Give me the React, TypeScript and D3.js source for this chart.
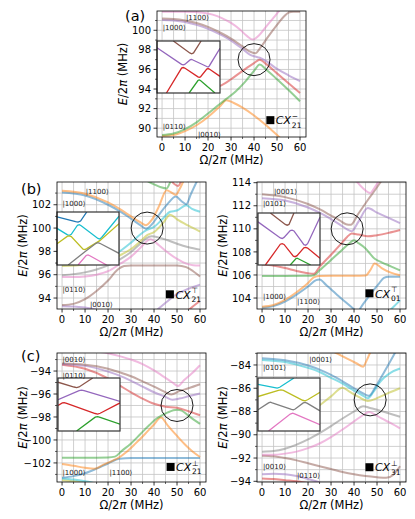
import * as d3 from "d3";
import { useRef, useEffect } from "react";

type Pt = [number, number];

const C = {
  blue: "#1f77b4",
  orange: "#ff7f0e",
  green: "#2ca02c",
  red: "#d62728",
  purple: "#9467bd",
  brown: "#8c564b",
  pink: "#e377c2",
  grey: "#7f7f7f",
  olive: "#bcbd22",
  cyan: "#17becf",
};

const xDomain: Pt = [-2.2, 62.6];
const xTicks = [0, 10, 20, 30, 40, 50, 60];
const xMinor = [5, 15, 25, 35, 45, 55];

// ---------- (a) CX^-_21 ----------
const aYTicks = [90, 92, 94, 96, 98, 100];
const aOrange: Pt[] = [[0, 89.2], [5, 89.3], [10, 89.7], [15, 90.3], [20, 91.15], [25, 92.2], [28, 92.85], [31, 92.6], [35, 92.1], [40, 91.3], [45, 90.35], [50, 89.3], [54, 88.4]];
const aGreen: Pt[] = [[0, 89.3], [5, 89.45], [10, 89.9], [15, 90.6], [20, 91.5], [25, 92.45], [28, 93.0], [32, 93.75], [36, 94.7], [40, 95.85], [42.5, 96.5], [45, 96.05], [50, 95.0], [55, 93.9], [60, 92.75]];
const aRed: Pt[] = [[0, 96.8], [8, 96.2], [16, 95.1], [22, 94.1], [25, 94.3], [30, 95.0], [35, 95.85], [40, 96.65], [42.5, 97.0], [45, 96.6], [50, 95.6], [55, 94.6], [60, 93.6]];
const aPurple: Pt[] = [[0, 101.05], [5, 101.0], [10, 100.85], [15, 100.55], [20, 100.15], [25, 99.6], [30, 98.95], [35, 98.1], [38, 97.55], [40, 97.35], [42.5, 97.2], [45, 96.9], [50, 96.05], [55, 95.4], [60, 94.8]];
const aBrown: Pt[] = [[0, 101.2], [5, 101.15], [10, 101.0], [15, 100.75], [20, 100.35], [25, 99.8], [30, 99.15], [35, 98.35], [38, 97.85], [40.5, 97.65], [43, 98.3], [46, 99.3], [50, 100.55], [53, 101.4], [55, 101.8], [57, 101.9], [60, 101.9]];
const aPink: Pt[] = [[0, 101.9], [10, 101.9], [18, 101.8], [22, 101.6], [26, 101.25], [30, 100.75], [34, 100.05], [37, 99.4], [39.5, 99.05], [42, 99.45], [45, 100.3], [48, 101.15], [51, 102.0], [52, 102.3]];
// inset (fractions of inset box, y from top)
const aInBrown: Pt[] = [[0.26, 0], [0.52, 0.23], [0.55, 0.245], [0.58, 0.23], [0.7, 0]];
const aInPurple: Pt[] = [[0, 0.13], [0.39, 0.45], [0.415, 0.46], [0.44, 0.45], [0.53, 0.36], [0.55, 0.355], [0.57, 0.365], [0.79, 0.49], [0.81, 0.5], [0.83, 0.48], [1.0, 0.14]];
const aInRed: Pt[] = [[0.15, 1.0], [0.39, 0.52], [0.415, 0.51], [0.44, 0.52], [0.65, 0.69], [0.67, 0.7], [0.69, 0.69], [0.79, 0.54], [0.81, 0.53], [0.83, 0.54], [1.0, 0.68]];
const aInGreen: Pt[] = [[0.51, 1.0], [0.65, 0.76], [0.67, 0.75], [0.69, 0.76], [0.92, 1.0]];

// ---------- (b) left CX^T_21 ----------
const bYTicks = [94, 96, 98, 100, 102];
const bPurple: Pt[] = [[0, 93.3], [5, 93.28], [10, 93.18], [15, 93.0], [20, 92.75], [30, 92.3], [38, 92.5], [42, 93.1], [46, 93.75], [50, 94.35], [55, 94.8], [60, 95.15]];
const bRedLow: Pt[] = [[54, 92.8], [57, 93.3], [60, 93.75]];
const bBrown: Pt[] = [[0, 93.4], [5, 93.5], [10, 93.9], [15, 94.6], [20, 95.5], [24, 96.4], [27, 96.75], [30, 96.8], [40, 96.8], [50, 96.8], [54, 96.65], [57, 96.3], [60, 95.85]];
const bPink: Pt[] = [[0, 95.8], [5, 95.8], [10, 95.85], [15, 96.0], [20, 96.3], [25, 96.9], [30, 97.55], [34, 98.3], [38.5, 99.05], [42, 98.55], [46, 97.9], [50, 97.35], [54, 96.95], [57, 96.82], [60, 96.8]];
const bGrey: Pt[] = [[0, 95.95], [10, 96.2], [15, 96.45], [20, 96.8], [25, 97.3], [30, 97.95], [34, 98.65], [36.5, 99.1], [39, 99.3], [42, 99.2], [46, 98.95], [50, 98.65], [55, 98.35], [60, 98.15]];
const bOlive: Pt[] = [[0, 96.75], [10, 96.85], [20, 97.3], [25, 97.65], [30, 98.2], [34, 98.85], [37, 99.4], [40, 99.65], [44, 100.45], [47, 101.15], [50, 100.75], [55, 100.2], [60, 99.7]];
const bCyan: Pt[] = [[0, 96.9], [10, 97.0], [20, 97.55], [25, 98.0], [30, 98.75], [34, 99.45], [36.5, 99.8], [40, 100.1], [44, 100.85], [47, 101.4], [50, 101.5], [54, 101.95], [56.5, 101.65], [60, 101.4]];
const bBlue: Pt[] = [[0, 103.05], [10, 102.8], [20, 102.0], [25, 101.45], [30, 100.8], [34, 100.25], [36.5, 99.95], [39, 100.3], [42, 101.1], [46, 102.1], [49.5, 102.7], [52, 102.3], [54, 102.05], [56, 102.9], [58.5, 103.95], [60, 104.5]];
const bOrange: Pt[] = [[0, 103.2], [10, 102.95], [20, 102.2], [25, 101.65], [30, 101.0], [34, 100.5], [36.5, 100.25], [39, 100.7], [42, 101.8], [45.5, 103.25], [47.5, 103.05], [49.5, 102.85], [51, 103.3], [52.5, 103.9], [54, 104.5]];
const bGreen: Pt[] = [[33, 104.5], [36, 104.15], [40, 103.75], [43, 103.5], [45.5, 103.4], [47, 103.9], [48.5, 104.4]];
const bRed: Pt[] = [[45, 104.8], [47, 104.2], [49, 103.75], [50.5, 103.6], [51.5, 103.9], [53, 104.5]];
const bInBlue: Pt[] = [[0, 0.09], [0.3, 0.18], [0.34, 0.19], [0.38, 0.17], [0.48, 0]];
const bInCyan: Pt[] = [[0, 0.31], [0.17, 0.43], [0.2, 0.44], [0.23, 0.42], [0.33, 0.25], [0.36, 0.24], [0.39, 0.26], [0.66, 0.5], [0.69, 0.51], [0.72, 0.48], [1.0, 0.08]];
const bInOlive: Pt[] = [[0, 0.6], [0.17, 0.455], [0.2, 0.45], [0.23, 0.465], [0.42, 0.7], [0.45, 0.71], [0.48, 0.69], [0.69, 0.54], [1.0, 0.22]];
const bInGrey: Pt[] = [[0.18, 1.0], [0.45, 0.75], [0.63, 0.59], [0.66, 0.58], [0.69, 0.59], [1.0, 0.78]];
const bInPink: Pt[] = [[0.34, 1.0], [0.47, 0.82], [0.5, 0.81], [0.53, 0.825], [0.8, 1.0]];

// ---------- (b) right CX^T_01 ----------
const brYTicks = [104, 106, 108, 110, 112, 114];
const brCyan: Pt[] = [[54, 102.6], [57, 103.2], [60, 103.8]];
const brBlue: Pt[] = [[0, 103.15], [5, 103.3], [10, 103.7], [15, 104.3], [20, 105.0], [23.5, 105.55], [25, 105.6], [28, 105.1], [32, 104.4], [36, 103.7], [39, 103.2], [41.5, 102.85], [44, 103.5], [48, 104.55], [51, 105.3], [53, 105.75], [55, 105.85], [60, 105.85]];
const brOrange: Pt[] = [[0, 103.25], [5, 103.4], [10, 103.85], [15, 104.5], [20, 105.3], [22.5, 105.8], [25, 105.92], [30, 105.93], [40, 105.93], [45, 105.95], [47, 106.4], [49, 107.0], [52, 106.6], [56, 106.2], [60, 105.97]];
const brGreen: Pt[] = [[0, 105.92], [10, 105.92], [20, 105.93], [22.5, 105.98], [25, 106.4], [30, 107.3], [35, 108.2], [38, 108.75], [40, 109.0], [42, 108.75], [45, 108.3], [49, 107.4], [52, 107.1], [56, 106.75], [60, 106.4]];
const brRed: Pt[] = [[0, 106.9], [5, 106.8], [10, 106.6], [15, 106.35], [20, 106.15], [22.5, 106.1], [25, 106.7], [30, 107.75], [35, 108.85], [37, 109.3], [39, 109.6], [42, 109.5], [46, 109.35], [50, 109.45], [55, 109.65], [60, 109.9]];
const brPurple: Pt[] = [[0, 112.65], [10, 112.45], [20, 111.85], [25, 111.4], [30, 110.85], [34, 110.35], [37, 109.95], [39, 109.8], [42, 110.65], [46, 111.8], [50, 111.4], [55, 110.95], [60, 110.5]];
const brBrown: Pt[] = [[0, 113.0], [10, 112.75], [20, 112.15], [25, 111.7], [30, 111.15], [34, 110.7], [36.5, 110.4], [38.5, 110.35], [42, 111.35], [46, 112.5], [50, 113.6], [52, 114.2]];
const brPink: Pt[] = [[38, 115.0], [41, 114.15], [44, 113.5], [47, 113.1], [49, 113.6], [51, 114.2]];
const brInBrown: Pt[] = [[0.2, 0], [0.44, 0.22], [0.47, 0.235], [0.5, 0.22], [0.58, 0]];
const brInPurple: Pt[] = [[0, 0.17], [0.36, 0.48], [0.39, 0.49], [0.42, 0.47], [0.52, 0.34], [0.55, 0.33], [0.58, 0.345], [0.74, 0.61], [0.77, 0.62], [0.8, 0.59], [1.0, 0.08]];
const brInRed: Pt[] = [[0.12, 1.0], [0.36, 0.6], [0.39, 0.59], [0.42, 0.605], [0.57, 0.83], [0.6, 0.84], [0.63, 0.82], [0.74, 0.67], [0.77, 0.66], [0.8, 0.675], [1.0, 0.87]];
const brInGreen: Pt[] = [[0.52, 1.0], [0.61, 0.88], [0.63, 0.87], [0.65, 0.88], [0.85, 1.0]];

// ---------- (c) CX^⊥_21 ----------
const cYTicks = [-102, -100, -98, -96, -94];
const cOlive: Pt[] = [[0, -103.5], [5, -103.6], [10, -103.75], [14, -103.9]];
const cCyan: Pt[] = [[0, -103.35], [5, -103.45], [10, -103.6], [15, -103.8], [20, -104.0]];
const cBlue: Pt[] = [[0, -103.3], [5, -103.15], [10, -102.9], [15, -102.5], [20, -102.05], [25, -101.63], [30, -101.58], [40, -101.58], [50, -101.58], [60, -101.58]];
const cOrange: Pt[] = [[0, -102.1], [5, -102.25], [10, -102.42], [14, -102.5], [18, -102.15], [22, -101.8], [24.5, -101.56], [28, -101.05], [32, -100.3], [36, -99.5], [40, -98.65], [43, -98.05], [46, -98.75], [50, -99.65], [54, -100.5], [57, -101.05], [60, -101.48]];
const cGreen: Pt[] = [[0, -101.55], [10, -101.55], [20, -101.52], [23, -101.45], [26, -100.95], [30, -100.3], [34, -99.5], [38, -98.7], [41, -98.15], [43, -97.9], [46, -97.6], [50, -97.38], [52, -97.45], [55, -97.9], [60, -98.6]];
const cRed: Pt[] = [[0, -93.45], [10, -93.8], [20, -94.65], [25, -95.25], [30, -95.85], [35, -96.4], [40, -96.85], [45, -97.1], [50, -97.2], [55, -97.5], [60, -97.85]];
const cPurple: Pt[] = [[0, -93.4], [10, -93.55], [20, -94.05], [25, -94.4], [30, -94.85], [35, -95.35], [40, -95.85], [45, -96.25], [48, -96.5], [51, -96.4], [55, -96.2], [60, -95.95]];
const cBrown: Pt[] = [[0, -93.35], [10, -93.45], [20, -93.8], [25, -94.1], [30, -94.45], [35, -94.9], [40, -95.35], [44, -95.75], [47.5, -96.05], [51, -95.75], [55, -95.5], [60, -95.15]];
const cPink: Pt[] = [[0, -92.1], [10, -92.2], [20, -92.45], [25, -92.7], [30, -93.0], [35, -93.4], [40, -93.95], [45, -94.6], [48, -95.0], [50.5, -95.3], [53, -94.8], [56.5, -94.2], [60, -93.5]];
const cInBrown: Pt[] = [[0, 0.08], [0.26, 0.17], [0.3, 0.18], [0.34, 0.17], [0.56, 0]];
const cInPurple: Pt[] = [[0, 0.41], [0.34, 0.24], [0.38, 0.23], [0.42, 0.24], [1.0, 0.44]];
const cInRed: Pt[] = [[0, 0.52], [0.07, 0.47], [0.1, 0.465], [0.14, 0.48], [0.6, 0.67], [0.64, 0.68], [0.68, 0.665], [1.0, 0.47]];
const cInGreen: Pt[] = [[0.3, 1.0], [0.6, 0.74], [0.64, 0.73], [0.68, 0.745], [1.0, 0.87]];

// ---------- (d) CX^⊥_31 ----------
const dYTicks = [-94, -92, -90, -88, -86, -84];
const dRed: Pt[] = [[0, -93.75], [5, -93.8], [10, -93.9], [15, -94.0], [20, -94.15]];
const dPurple: Pt[] = [[0, -93.4], [5, -93.35], [10, -93.4], [15, -93.55], [20, -93.8], [25, -94.1], [28, -94.4]];
const dBrown: Pt[] = [[0, -91.8], [5, -91.85], [10, -92.0], [15, -92.2], [20, -92.45], [25, -92.7], [30, -92.95], [35, -93.2], [40, -93.4], [45, -93.55], [50, -93.65], [54, -93.7], [57, -93.45], [60, -92.7]];
const dPink: Pt[] = [[0, -91.72], [5, -91.72], [10, -91.62], [15, -91.45], [20, -91.15], [25, -90.75], [30, -90.2], [35, -89.55], [40, -88.85], [44, -88.3], [46.5, -88.05], [49, -88.25], [52, -88.6], [56, -89.0], [60, -89.45]];
const dGrey: Pt[] = [[0, -91.45], [5, -91.4], [10, -91.2], [15, -90.85], [20, -90.4], [25, -89.85], [30, -89.25], [35, -88.6], [40, -88.0], [44, -87.55], [47, -87.7], [50, -87.85], [55, -88.15], [60, -88.45]];
const dOlive: Pt[] = [[0, -89.0], [10, -88.6], [20, -88.0], [24, -87.6], [30, -86.7], [35, -85.95], [38, -86.3], [42, -86.75], [46, -87.1], [50, -86.85], [55, -86.4], [60, -86.0]];
const dCyan: Pt[] = [[0, -83.57], [10, -83.75], [20, -84.25], [25, -84.6], [30, -85.1], [35, -85.6], [40, -86.2], [44, -86.65], [46, -86.85], [48.5, -86.3], [51, -85.55], [53, -85.1], [56, -84.65], [60, -84.3]];
const dBlue: Pt[] = [[0, -83.43], [10, -83.6], [20, -84.05], [25, -84.4], [30, -84.85], [35, -85.4], [40, -86.0], [44, -86.45], [46.5, -86.65], [49, -86.0], [52, -85.0], [55, -83.95], [57, -83.25], [58.5, -82.7]];
const dOrange: Pt[] = [[30, -82.75], [33, -83.05], [37, -83.45], [41, -83.85], [44, -84.15], [45.5, -83.6], [47, -82.95], [48, -82.6]];
const dInCyan: Pt[] = [[0, 0.12], [0.27, 0.18], [0.31, 0.19], [0.35, 0.175], [0.58, 0]];
const dInOlive: Pt[] = [[0, 0.35], [0.33, 0.235], [0.37, 0.225], [0.41, 0.235], [0.72, 0.42], [0.76, 0.43], [0.8, 0.41], [1.0, 0.27]];
const dInGrey: Pt[] = [[0, 0.6], [0.17, 0.47], [0.2, 0.455], [0.23, 0.47], [0.54, 0.59], [0.57, 0.6], [0.6, 0.585], [0.73, 0.47], [0.76, 0.46], [0.79, 0.475], [1.0, 0.62]];
const dInPink: Pt[] = [[0.17, 1.0], [0.52, 0.68], [0.56, 0.665], [0.6, 0.68], [1.0, 0.88]];

const panels = [
  {
    id: "a", left: 157, top: 11, height: 126, yDomain: [89.1, 101.97], yTicks: aYTicks,
    lines: [[aOrange, C.orange], [aGreen, C.green], [aRed, C.red], [aPurple, C.purple], [aBrown, C.brown], [aPink, C.pink]],
    inset: { dx: 0, dy: 30, w: 63, h: 52, lines: [[aInBrown, C.brown], [aInPurple, C.purple], [aInRed, C.red], [aInGreen, C.green]] },
    circle: [40, 97], marker: [47.1, 90.82], sup: "\u2212", sub: "21",
    kets: [["|1100\u27e9", 10.4, 101.05], ["|1000\u27e9", 0.3, 100.03], ["|0110\u27e9", 0.3, 89.88], ["|0010\u27e9", 15.6, 89.14]],
    tag: "(a)", tagX: 125, tagY: 21,
  },
  {
    id: "bl", left: 57, top: 182, height: 127, yDomain: [93.06, 103.95], yTicks: bYTicks,
    lines: [[bRedLow, C.red], [bPurple, C.purple], [bBrown, C.brown], [bPink, C.pink], [bGrey, C.grey], [bOlive, C.olive], [bCyan, C.cyan], [bBlue, C.blue], [bOrange, C.orange], [bGreen, C.green], [bRed, C.red]],
    inset: { dx: 0, dy: 30, w: 62, h: 53, lines: [[bInBlue, C.blue], [bInCyan, C.cyan], [bInOlive, C.olive], [bInGrey, C.grey], [bInPink, C.pink]] },
    circle: [37, 100], marker: [46.9, 94.32], sup: "\u22a4", sub: "21",
    kets: [["|1100\u27e9", 10.3, 102.92], ["|1000\u27e9", 0.2, 101.93], ["|0110\u27e9", 0.2, 94.52], ["|0010\u27e9", 12.1, 93.23]],
    tag: "(b)", tagX: 21, tagY: 194,
  },
  {
    id: "br", left: 257, top: 182, height: 127, yDomain: [103.05, 114.06], yTicks: brYTicks,
    lines: [[brCyan, C.cyan], [brBlue, C.blue], [brOrange, C.orange], [brGreen, C.green], [brRed, C.red], [brPurple, C.purple], [brBrown, C.brown], [brPink, C.pink]],
    inset: { dx: 1, dy: 31, w: 62, h: 52, lines: [[brInBrown, C.brown], [brInPurple, C.purple], [brInRed, C.red], [brInGreen, C.green]] },
    circle: [37, 110], marker: [46.7, 104.41], sup: "\u22a4", sub: "01",
    kets: [["|0001\u27e9", 5.2, 113.05], ["|0101\u27e9", 0.4, 112.02], ["|1000\u27e9", 0.4, 103.94], ["|1100\u27e9", 15.2, 103.48]],
    tag: "", tagX: 0, tagY: 0,
  },
  {
    id: "c", left: 57, top: 353, height: 129, yDomain: [-103.66, -92.43], yTicks: cYTicks,
    lines: [[cOlive, C.olive], [cCyan, C.cyan], [cBlue, C.blue], [cOrange, C.orange], [cGreen, C.green], [cRed, C.red], [cPurple, C.purple], [cBrown, C.brown], [cPink, C.pink]],
    inset: { dx: 1, dy: 25, w: 62, h: 53, lines: [[cInBrown, C.brown], [cInPurple, C.purple], [cInRed, C.red], [cInGreen, C.green]] },
    circle: [50, -97], marker: [47.2, -102.35], sup: "\u22a5", sub: "21",
    kets: [["|0010\u27e9", 0.2, -93.17], ["|0110\u27e9", 0.2, -94.57], ["|1000\u27e9", 0.2, -103.07], ["|1100\u27e9", 20.6, -103.07]],
    tag: "(c)", tagX: 21, tagY: 361,
  },
  {
    id: "d", left: 257, top: 353, height: 129, yDomain: [-94.06, -82.97], yTicks: dYTicks,
    lines: [[dRed, C.red], [dPurple, C.purple], [dBrown, C.brown], [dPink, C.pink], [dGrey, C.grey], [dOlive, C.olive], [dCyan, C.cyan], [dBlue, C.blue], [dOrange, C.orange]],
    inset: { dx: 1, dy: 25, w: 62, h: 53, lines: [[dInCyan, C.cyan], [dInOlive, C.olive], [dInGrey, C.grey], [dInPink, C.pink]] },
    circle: [47, -87], marker: [46.7, -92.79], sup: "\u22a5", sub: "31",
    kets: [["|0001\u27e9", 20.5, -83.78], ["|0101\u27e9", 0.4, -84.43], ["|0010\u27e9", 0.4, -92.98], ["|0110\u27e9", 15.2, -93.74]],
    tag: "", tagX: 0, tagY: 0,
  },
];

const W = 149;
const FONT = "DejaVu Sans, sans-serif";
const fmt = (v: number) => String(v).replace("-", "\u2212");

function drawPanel(root: any, p: any) {
  const x = d3.scaleLinear().domain(xDomain).range([p.left, p.left + W]);
  const y = d3.scaleLinear().domain(p.yDomain).range([p.top + p.height, p.top]);
  const bottom = p.top + p.height;
  const g = root.append("g");

  const clipId = `clip-${p.id}`;
  g.append("clipPath").attr("id", clipId)
    .append("rect").attr("x", p.left).attr("y", p.top).attr("width", W).attr("height", p.height);

  // grid: every 5 in x, every 1 in y
  const yGrid = d3.range(Math.ceil(p.yDomain[0]), Math.floor(p.yDomain[1]) + 1);
  g.append("g").selectAll("line").data(yGrid).join("line")
    .attr("x1", p.left).attr("x2", p.left + W)
    .attr("y1", (d: number) => y(d)).attr("y2", (d: number) => y(d))
    .attr("stroke", "#c4c4c4").attr("stroke-width", 0.8);
  g.append("g").selectAll("line").data([...xTicks, ...xMinor]).join("line")
    .attr("x1", (d: number) => x(d)).attr("x2", (d: number) => x(d))
    .attr("y1", p.top).attr("y2", bottom)
    .attr("stroke", "#c4c4c4").attr("stroke-width", 0.8);

  // level curves
  const line = d3.line<Pt>().x(d => x(d[0])).y(d => y(d[1])).curve(d3.curveMonotoneX);
  g.append("g").attr("clip-path", `url(#${clipId})`)
    .selectAll("path").data(p.lines).join("path")
    .attr("d", (d: any) => line(d[0]))
    .attr("fill", "none")
    .attr("stroke", (d: any) => d[1])
    .attr("stroke-width", 2)
    .attr("stroke-opacity", 0.5);

  // circle around the crossing
  g.append("circle")
    .attr("cx", x(p.circle[0])).attr("cy", y(p.circle[1])).attr("r", 16)
    .attr("fill", "none").attr("stroke", "#000").attr("stroke-width", 0.9);

  // inset
  const ins = p.inset;
  const ix = p.left + ins.dx, iy = p.top + ins.dy;
  const sx = d3.scaleLinear().domain([0, 1]).range([ix, ix + ins.w]);
  const sy = d3.scaleLinear().domain([0, 1]).range([iy, iy + ins.h]);
  const iclip = `iclip-${p.id}`;
  g.append("clipPath").attr("id", iclip)
    .append("rect").attr("x", ix).attr("y", iy).attr("width", ins.w).attr("height", ins.h);
  g.append("rect").attr("x", ix).attr("y", iy).attr("width", ins.w).attr("height", ins.h).attr("fill", "#fff");
  const iline = d3.line<Pt>().x(d => sx(d[0])).y(d => sy(d[1]));
  g.append("g").attr("clip-path", `url(#${iclip})`)
    .selectAll("path").data(ins.lines).join("path")
    .attr("d", (d: any) => iline(d[0]))
    .attr("fill", "none").attr("stroke", (d: any) => d[1]).attr("stroke-width", 1.3);
  g.append("rect").attr("x", ix).attr("y", iy).attr("width", ins.w).attr("height", ins.h)
    .attr("fill", "none").attr("stroke", "#333").attr("stroke-width", 1.2);

  // state labels
  g.append("g").selectAll("text").data(p.kets).join("text")
    .attr("x", (d: any) => x(d[1])).attr("y", (d: any) => y(d[2]))
    .attr("font-family", FONT).attr("font-size", 7).attr("fill", "#222")
    .text((d: any) => d[0]);

  // marker + gate label
  const mx = x(p.marker[0]), my = y(p.marker[1]);
  g.append("rect").attr("x", mx - 4).attr("y", my - 4).attr("width", 8).attr("height", 8).attr("fill", "#000");
  g.append("text").attr("x", mx + 5.5).attr("y", my + 4.2)
    .attr("font-family", FONT).attr("font-size", 11).attr("font-style", "italic").text("CX");
  g.append("text").attr("x", mx + 21.5).attr("y", my - 1)
    .attr("font-family", FONT).attr("font-size", 7.5).text(p.sup);
  g.append("text").attr("x", mx + 21.5).attr("y", my + 7.5)
    .attr("font-family", FONT).attr("font-size", 7.5).text(p.sub);

  // spines
  g.append("rect").attr("x", p.left).attr("y", p.top).attr("width", W).attr("height", p.height)
    .attr("fill", "none").attr("stroke", "#000").attr("stroke-width", 0.8);

  // x ticks
  g.append("g").selectAll("line").data(xTicks).join("line")
    .attr("x1", (d: number) => x(d)).attr("x2", (d: number) => x(d))
    .attr("y1", bottom).attr("y2", bottom + 3.5).attr("stroke", "#000").attr("stroke-width", 0.8);
  g.append("g").selectAll("line").data(xMinor).join("line")
    .attr("x1", (d: number) => x(d)).attr("x2", (d: number) => x(d))
    .attr("y1", bottom).attr("y2", bottom + 2).attr("stroke", "#000").attr("stroke-width", 0.6);
  g.append("g").selectAll("text").data(xTicks).join("text")
    .attr("x", (d: number) => x(d)).attr("y", bottom + 14)
    .attr("text-anchor", "middle").attr("font-family", FONT).attr("font-size", 10)
    .text((d: number) => fmt(d));

  // y ticks
  const yMinor = yGrid.filter((v: number) => !p.yTicks.includes(v));
  g.append("g").selectAll("line").data(p.yTicks).join("line")
    .attr("x1", p.left - 3.5).attr("x2", p.left)
    .attr("y1", (d: number) => y(d)).attr("y2", (d: number) => y(d)).attr("stroke", "#000").attr("stroke-width", 0.8);
  g.append("g").selectAll("line").data(yMinor).join("line")
    .attr("x1", p.left - 2).attr("x2", p.left)
    .attr("y1", (d: number) => y(d)).attr("y2", (d: number) => y(d)).attr("stroke", "#000").attr("stroke-width", 0.6);
  g.append("g").selectAll("text").data(p.yTicks).join("text")
    .attr("x", p.left - 6).attr("y", (d: number) => y(d) + 3.6)
    .attr("text-anchor", "end").attr("font-family", FONT).attr("font-size", 10)
    .text((d: number) => fmt(d));

  // axis labels
  const xl = g.append("text").attr("x", p.left + W / 2).attr("y", bottom + 27)
    .attr("text-anchor", "middle").attr("font-family", FONT).attr("font-size", 11.5);
  xl.append("tspan").text("\u03a9/2");
  xl.append("tspan").attr("font-style", "italic").text("\u03c0");
  xl.append("tspan").text(" (MHz)");

  const cy = p.top + p.height / 2;
  const yl = g.append("text").attr("transform", `translate(${p.left - 30},${cy}) rotate(-90)`)
    .attr("text-anchor", "middle").attr("font-family", FONT).attr("font-size", 11.5);
  yl.append("tspan").attr("font-style", "italic").text("E");
  yl.append("tspan").text("/2");
  yl.append("tspan").attr("font-style", "italic").text("\u03c0");
  yl.append("tspan").text(" (MHz)");

  if (p.tag) {
    g.append("text").attr("x", p.tagX).attr("y", p.tagY)
      .attr("font-family", FONT).attr("font-size", 14.5).text(p.tag);
  }
}

export default function App() {
  const svgRef = useRef<SVGSVGElement>(null);

  useEffect(() => {
    const svg = d3.select(svgRef.current);
    svg.selectAll("*").remove();
    svg.append("rect").attr("width", 415).attr("height", 519).attr("fill", "#fff");
    panels.forEach(p => drawPanel(svg, p));
  }, []);

  return (
    <svg
      ref={svgRef}
      width={415}
      height={519}
      style={{ position: "absolute", left: 0, top: 0, background: "#fff" }}
    />
  );
}
